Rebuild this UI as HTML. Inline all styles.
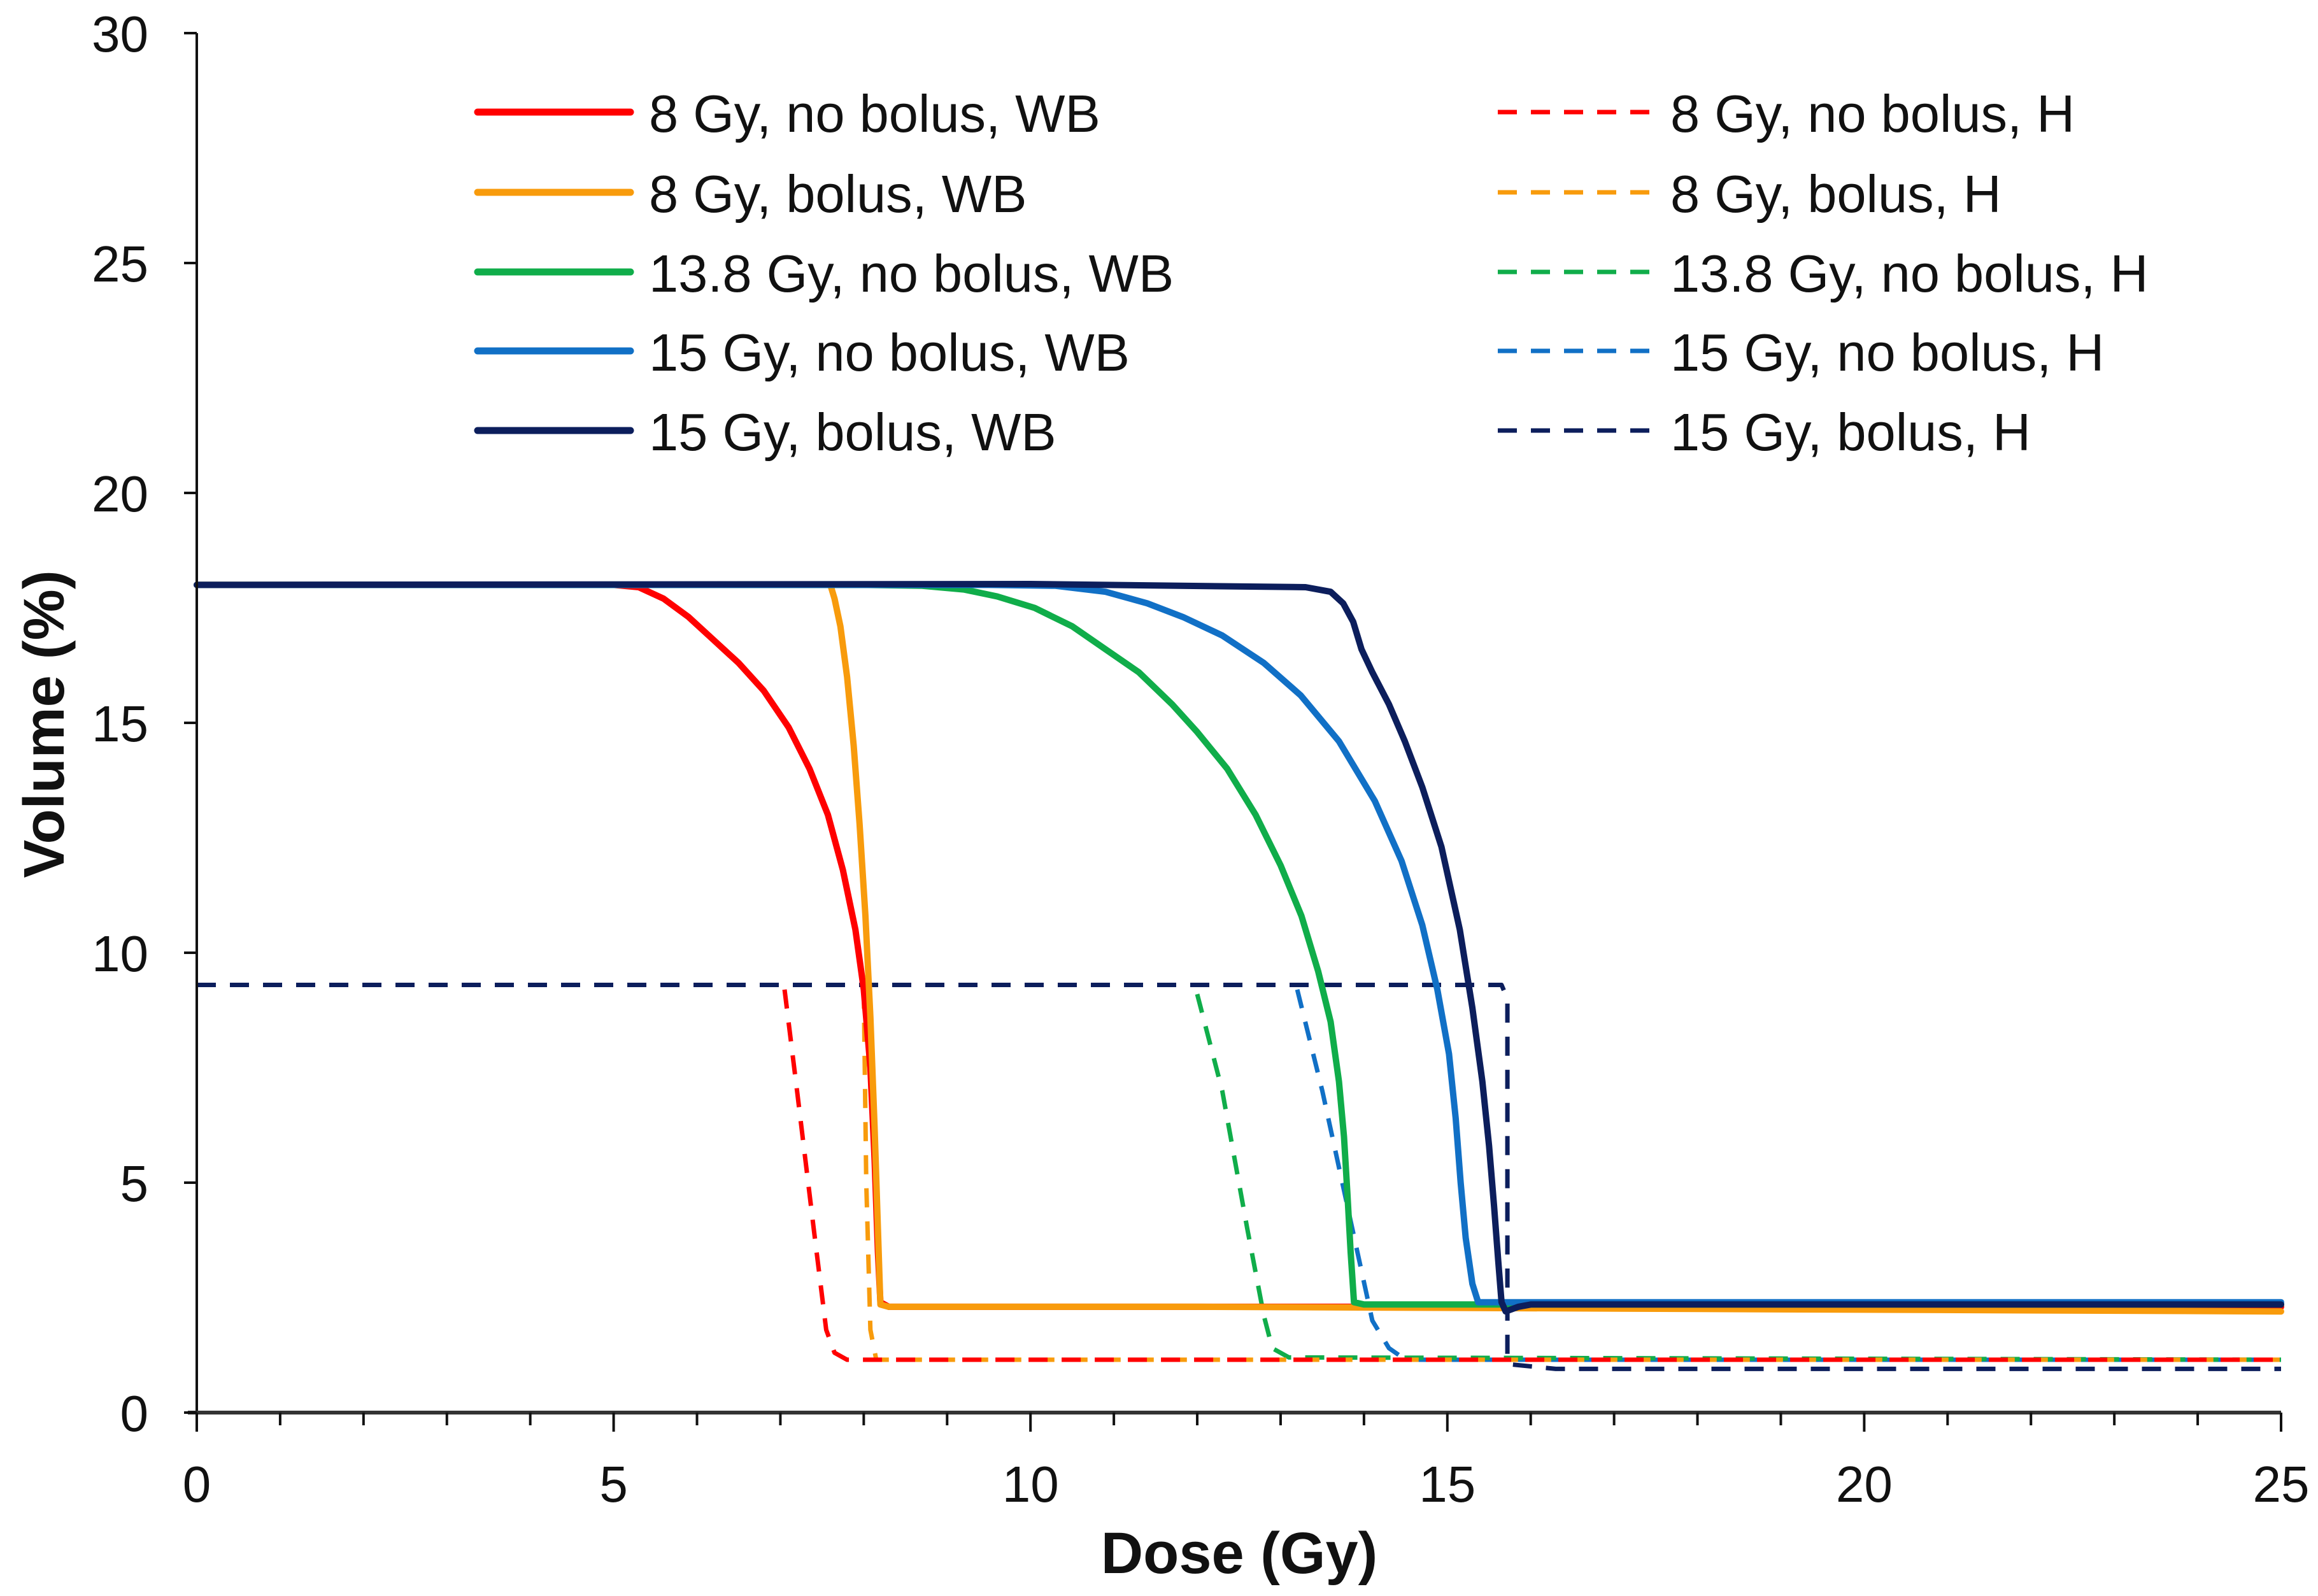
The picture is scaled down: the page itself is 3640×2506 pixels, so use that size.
<!DOCTYPE html>
<html><head><meta charset="utf-8">
<style>
html,body{margin:0;padding:0;background:#fff;}
svg{display:block;font-family:"Liberation Sans",Arial,sans-serif;}
</style></head>
<body>
<svg id="chart" width="3640" height="2506" viewBox="0 0 3640 2506" xmlns="http://www.w3.org/2000/svg">
<rect width="3640" height="2506" fill="#fff"/>
<g id="plot"></g>
<g id="axes"></g>
<g id="legend"></g>
</svg>
<script>
const xTicks = [0,5,10,15,20,25];
const yTicks = [0,5,10,15,20,25,30];
const seriesNames = ["8 Gy, no bolus, WB","8 Gy, bolus, WB","13.8 Gy, no bolus, WB","15 Gy, no bolus, WB","15 Gy, bolus, WB",
  "8 Gy, no bolus, H","8 Gy, bolus, H","13.8 Gy, no bolus, H","15 Gy, no bolus, H","15 Gy, bolus, H"];
const seriesColors = ["#ff0000","#f89b0c","#10ad4a","#1170c6","#0c1e5c","#ff0000","#f89b0c","#10ad4a","#1170c6","#0c1e5c"];
const redWB_x = [0,4,5.0,5.3,5.6,5.9,6.2,6.5,6.8,7.1,7.35,7.57,7.75,7.9,8.0,8.08,8.13,8.17,8.2,8.3,10,25];
const redWB_y = [18,18,18,17.95,17.7,17.3,16.8,16.3,15.7,14.9,14.0,13.0,11.8,10.5,9.2,7.5,5.5,3.5,2.4,2.3,2.3,2.3];
const orWB_x = [0,5,7.6,7.65,7.72,7.8,7.88,7.95,8.02,8.08,8.13,8.17,8.2,8.3,12,25];
const orWB_y = [18,18,18,17.7,17.1,16.0,14.5,12.8,10.8,8.6,6.2,4.0,2.35,2.3,2.3,2.2];
const grWB_x = [0,8,8.7,9.2,9.6,10.05,10.5,10.9,11.3,11.7,12.0,12.36,12.7,13.0,13.25,13.45,13.6,13.7,13.76,13.8,13.84,13.88,14,25];
const grWB_y = [18,18,17.98,17.9,17.75,17.5,17.1,16.6,16.1,15.4,14.8,14.0,13.0,11.9,10.8,9.6,8.5,7.2,6.0,4.8,3.5,2.4,2.35,2.35];
const blWB_x = [0,9.5,10.3,10.9,11.4,11.83,12.3,12.8,13.24,13.7,14.13,14.45,14.7,14.88,15.02,15.1,15.16,15.22,15.3,15.37,16,25];
const blWB_y = [18,18,17.98,17.85,17.6,17.3,16.9,16.3,15.6,14.6,13.3,12.0,10.6,9.2,7.8,6.4,5.0,3.8,2.8,2.4,2.4,2.4];
const nvWB_x = [0,10,13.3,13.6,13.75,13.87,13.97,14.1,14.3,14.49,14.7,14.93,15.15,15.3,15.42,15.5,15.56,15.61,15.65,15.7,15.85,16.0,25];
const nvWB_y = [18,18.02,17.95,17.85,17.6,17.2,16.6,16.1,15.4,14.6,13.6,12.3,10.5,8.8,7.2,5.8,4.5,3.3,2.4,2.2,2.3,2.35,2.35];
const redH_x = [7.05,7.2,7.4,7.55,7.65,7.8,25];
const redH_y = [9.2,7.0,4.0,1.8,1.3,1.15,1.15];
const orH_x = [8.0,8.03,8.08,8.15,8.3,25];
const orH_y = [9.2,5.0,1.8,1.15,1.15,1.15];
const grH_x = [12.0,12.3,12.6,12.8,12.9,13.1,25];
const grH_y = [9.1,7.0,4.0,2.1,1.4,1.2,1.15];
const blH_x = [13.2,13.5,13.8,14.1,14.3,14.5,25];
const blH_y = [9.2,7.0,4.5,2.0,1.4,1.15,1.15];
const nvH_x = [0,15.65,15.72,15.72,15.75,16.3,25];
const nvH_y = [9.3,9.3,9.0,1.2,1.05,0.95,0.95];

const X0=309, X1=3582, Y0=2218, Y1=52;
function sx(v){return X0+(v-0)/(25-0)*(X1-X0);}
function sy(v){return Y0-(v-0)/(30-0)*(Y0-Y1);}
const NS="http://www.w3.org/2000/svg";
function mk(tag,attrs,parent){const e=document.createElementNS(NS,tag);for(const k in attrs)e.setAttribute(k,attrs[k]);parent.appendChild(e);return e;}

const plot=document.getElementById('plot');
const solid=[[redWB_x,redWB_y],[orWB_x,orWB_y],[grWB_x,grWB_y],[blWB_x,blWB_y],[nvWB_x,nvWB_y]];
const dashed=[[redH_x,redH_y],[orH_x,orH_y],[grH_x,grH_y],[blH_x,blH_y],[nvH_x,nvH_y]];
function pathD(xs,ys){return xs.map((x,i)=>(i?'L':'M')+sx(x).toFixed(1)+' '+sy(ys[i]).toFixed(1)).join(' ');}
const dOrder=[9,8,7,6,5];
dOrder.forEach(i=>{
  const s=dashed[i-5];
  const p=mk('path',{d:pathD(s[0],s[1]),fill:'none',stroke:seriesColors[i],'stroke-width':7,'stroke-dasharray':'30 22','stroke-linejoin':'round'},plot);
  
  
});
solid.forEach((s,i)=>{
  const p=mk('path',{d:pathD(s[0],s[1]),fill:'none',stroke:seriesColors[i],'stroke-width':10,'stroke-linejoin':'round','stroke-linecap':'round'},plot);
  
  
});

const axes=document.getElementById('axes');
const ya=mk('line',{x1:X0,y1:Y1,x2:X0,y2:Y0,stroke:'#111','stroke-width':4},axes);


const xa=mk('line',{x1:X0-14,y1:Y0,x2:X1,y2:Y0,stroke:'#333','stroke-width':6},axes);


yTicks.forEach(v=>{
  const t=mk('line',{x1:X0-20,y1:sy(v),x2:X0,y2:sy(v),stroke:'#111','stroke-width':4},axes);
  
  
  const l=mk('text',{x:233,y:sy(v)+29,'text-anchor':'end','font-size':80,fill:'#111'},axes);
  l.textContent=v;
  
  
});
for(let v=0;v<=25;v++){
  const major=v%5===0;
  const t=mk('line',{x1:sx(v),y1:Y0,x2:sx(v),y2:Y0+(major?30:20),stroke:'#111','stroke-width':4},axes);
  
  
}
xTicks.forEach(v=>{
  const l=mk('text',{x:sx(v),y:2358,'text-anchor':'middle','font-size':80,fill:'#111'},axes);
  l.textContent=v;
  
  
});
const xt=mk('text',{x:1946,y:2470,'text-anchor':'middle','font-size':92,'font-weight':'bold',fill:'#111'},axes);
xt.textContent='Dose (Gy)';


const yt=mk('text',{x:0,y:0,'text-anchor':'middle','font-size':90,'font-weight':'bold',fill:'#111',transform:'translate(100,1137) rotate(-90)'},axes);
yt.textContent='Volume (%)';



const legend=document.getElementById('legend');
const rowsY=[176,302,427,551,676];
for(let i=0;i<10;i++){
  const col=i<5?0:1, r=i%5;
  const lx=col?2352:750, tx=col?2623:1019;
  const g=mk('g',{},legend);
  
  
  const attrs={x1:lx,y1:rowsY[r],x2:lx+240,y2:rowsY[r],stroke:seriesColors[i],'stroke-width':col?7:11,'stroke-linecap':col?'butt':'round'};
  if(col)attrs['stroke-dasharray']='30 22';
  const ln=mk('line',attrs,g);
  
  
  const tx_=mk('text',{x:tx,y:rowsY[r]+31,'font-size':83,fill:'#111'},g);
  tx_.textContent=seriesNames[i];
  
  
}
</script>
</body></html>
